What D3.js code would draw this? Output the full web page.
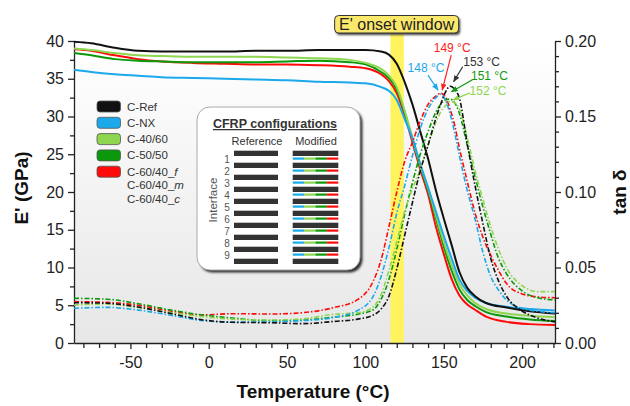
<!DOCTYPE html>
<html>
<head>
<meta charset="utf-8">
<title>DMA - E' and tan delta</title>
<script src="https://cdn.jsdelivr.net/npm/d3@7"></script>
<style>
  body { margin: 0; background: #fff; }
  svg { display: block; font-family: "Liberation Sans", Arial, sans-serif; }
  .axis path, .axis line { stroke: #222; stroke-width: 1.3; }
  .axis text { fill: #222; font-size: 16px; font-family: "Liberation Sans", Arial, sans-serif; }
</style>
</head>
<body>
<svg id="chart" width="630" height="406"></svg>
<script>
// ---- data ----
// storage modulus E' (GPa), solid lines
var tempE = [-86, -75, -60, -45, -30, -10, 10, 30, 50, 70, 90, 100, 110, 115, 120, 125, 130, 135, 140, 145, 150, 155, 160, 165, 170, 177, 190, 205, 221];
var eRef  = [39.9, 39.7, 39.1, 38.7, 38.6, 38.6, 38.6, 38.7, 38.7, 38.8, 38.8, 38.8, 38.6, 38.2, 37.0, 34.6, 31.6, 28.0, 24.4, 20.2, 16.5, 13.0, 9.4, 7.3, 6.2, 5.3, 4.7, 4.2, 3.9];
var eNX   = [36.2, 35.9, 35.6, 35.4, 35.2, 35.1, 35.0, 34.9, 34.8, 34.6, 34.5, 34.4, 33.9, 33.4, 32.2, 29.7, 27.1, 23.7, 20.6, 17.4, 14.2, 11.2, 8.4, 6.9, 6.0, 5.3, 4.8, 4.5, 4.3];
var e4060 = [39.0, 38.8, 38.4, 38.1, 38.0, 37.9, 37.9, 37.9, 37.8, 37.7, 37.5, 37.1, 36.3, 35.4, 33.9, 30.8, 27.2, 23.6, 20.5, 16.9, 13.4, 10.3, 7.8, 6.3, 5.3, 4.5, 3.9, 3.6, 3.4];
var e5050 = [38.4, 38.1, 37.6, 37.4, 37.3, 37.2, 37.2, 37.2, 37.3, 37.4, 37.2, 36.9, 35.9, 35.1, 33.6, 30.6, 27.0, 23.4, 20.2, 16.5, 12.8, 9.6, 7.1, 5.7, 4.9, 4.1, 3.5, 3.1, 2.9];
var e6040 = [38.9, 38.7, 38.1, 37.6, 37.3, 37.1, 37.0, 36.9, 36.9, 36.8, 36.6, 36.4, 35.6, 34.7, 33.1, 30.2, 26.6, 23.0, 19.7, 15.4, 11.8, 8.5, 6.3, 5.1, 4.4, 3.5, 2.8, 2.5, 2.4];

// loss factor tan delta, dash-dot lines
var tempTan = [-86, -65, -45, -25, -5, 15, 40, 60, 80, 95, 105, 110, 115, 120, 125, 130, 135, 140, 145, 148, 151, 154, 157, 160, 165, 170, 175, 180, 185, 190, 200, 210, 221];
var tanRef  = [0.0267, 0.0263, 0.0238, 0.0197, 0.0155, 0.0137, 0.0134, 0.0128, 0.0143, 0.0158, 0.0185, 0.0225, 0.031, 0.049, 0.071, 0.093, 0.114, 0.131, 0.149, 0.158, 0.166, 0.170, 0.168, 0.162, 0.132, 0.104, 0.079, 0.056, 0.041, 0.031, 0.0212, 0.0165, 0.014];
var tanNX   = [0.023, 0.0236, 0.0218, 0.0185, 0.0150, 0.0138, 0.0141, 0.0148, 0.0170, 0.0215, 0.031, 0.044, 0.063, 0.086, 0.104, 0.124, 0.142, 0.155, 0.1625, 0.1647, 0.161, 0.152, 0.139, 0.124, 0.101, 0.082, 0.060, 0.044, 0.035, 0.0285, 0.023, 0.021, 0.020];
var tan4060 = [0.0252, 0.0258, 0.0235, 0.0203, 0.0176, 0.0158, 0.0152, 0.0160, 0.019, 0.020, 0.024, 0.032, 0.048, 0.067, 0.087, 0.102, 0.115, 0.131, 0.146, 0.153, 0.157, 0.160, 0.159, 0.155, 0.136, 0.114, 0.095, 0.077, 0.062, 0.050, 0.038, 0.034, 0.034];
var tan5050 = [0.0296, 0.029, 0.026, 0.022, 0.0187, 0.0165, 0.0148, 0.0152, 0.0172, 0.019, 0.022, 0.029, 0.042, 0.062, 0.085, 0.106, 0.125, 0.140, 0.153, 0.158, 0.161, 0.1615, 0.159, 0.152, 0.131, 0.110, 0.090, 0.072, 0.056, 0.046, 0.0345, 0.030, 0.0285];
var tan6040 = [0.0274, 0.0269, 0.0250, 0.0212, 0.0186, 0.0194, 0.0192, 0.0201, 0.0235, 0.0287, 0.041, 0.055, 0.077, 0.100, 0.120, 0.133, 0.147, 0.158, 0.1635, 0.1655, 0.163, 0.155, 0.144, 0.129, 0.107, 0.086, 0.070, 0.058, 0.048, 0.0395, 0.0325, 0.0305, 0.030];

var seriesNames  = ["C-Ref", "C-NX", "C-40/60", "C-50/50", "C-60/40_f"];
var seriesColors = ["#111111", "#1ba9ec", "#8fd650", "#0b990b", "#ff0a0a"];
var eSeries   = [eRef, eNX, e4060, e5050, e6040];
var tanSeries = [tanRef, tanNX, tan4060, tan5050, tan6040];

var xTicks    = [-50, 0, 50, 100, 150, 200];
var yTicksE   = [0, 5, 10, 15, 20, 25, 30, 35, 40];
var yTicksTan = [0, 0.05, 0.10, 0.15, 0.20];

var onsetWindow = [116, 124.5];

// peak annotations: text, arrow tip (T, tan delta), colour
var peakText   = ["149 °C", "148 °C", "153 °C", "151 °C", "152 °C"];
var peakTipT   = [149, 146.3, 156.3, 154.9, 155.9];
var peakTipTan = [0.1675, 0.1675, 0.173, 0.1664, 0.161];
var peakColors = ["#ff2020", "#1ba9ec", "#333333", "#119911", "#8fd650"];

// ---- layout ----
var svg = d3.select("#chart");
var x = d3.scaleLinear().domain([-86, 221]).range([74, 555]);
var yE = d3.scaleLinear().domain([0, 40]).range([343, 41]);
var yT = d3.scaleLinear().domain([0, 0.2]).range([343, 41]);

var defs = svg.append("defs");
var grad = defs.append("linearGradient").attr("id", "bg")
    .attr("x1", 0).attr("y1", 0).attr("x2", 0).attr("y2", 1);
grad.append("stop").attr("offset", "0%").attr("stop-color", "#ffffff");
grad.append("stop").attr("offset", "100%").attr("stop-color", "#e7e7e7");

defs.append("filter").attr("id", "blur")
  .append("feGaussianBlur").attr("stdDeviation", 0.9);

// plot background
svg.append("rect")
    .attr("x", x.range()[0]).attr("y", yE(40))
    .attr("width", x.range()[1] - x.range()[0])
    .attr("height", yE(0) - yE(40))
    .attr("fill", "url(#bg)");

// E' onset window band
svg.append("rect")
    .attr("x", x(onsetWindow[0])).attr("y", 34)
    .attr("width", x(onsetWindow[1]) - x(onsetWindow[0]))
    .attr("height", yE(0) - 34)
    .attr("fill", "#fff35e");

var bandMid = (x(onsetWindow[0]) + x(onsetWindow[1])) / 2;
svg.append("rect")
    .attr("x", bandMid - 61).attr("y", 17.5).attr("width", 124).attr("height", 17.5)
    .attr("rx", 4).attr("fill", "#444").attr("filter", "url(#blur)");
svg.append("rect")
    .attr("x", bandMid - 62.5).attr("y", 15.5).attr("width", 124).attr("height", 17.5)
    .attr("rx", 4).attr("fill", "#fae86a").attr("stroke", "#333").attr("stroke-width", 1);
svg.append("text")
    .attr("x", bandMid - 0.5).attr("y", 30)
    .attr("text-anchor", "middle")
    .attr("font-size", 16).attr("fill", "#222")
    .text("E' onset window");

// axes
svg.append("g").attr("class", "axis")
    .attr("transform", "translate(0," + yE(0) + ")")
    .call(d3.axisBottom(x).tickValues(xTicks).tickSize(6).tickSizeOuter(0).tickPadding(8)
        .tickFormat(d => String(d)));
svg.append("g").attr("class", "axis")
    .attr("transform", "translate(0," + yE(0) + ")")
    .call(d3.axisBottom(x).tickValues(d3.range(-80, 221, 10).filter(v => v % 50 !== 0))
        .tickSize(5).tickFormat(""))
    .select(".domain").remove();

svg.append("g").attr("class", "axis")
    .attr("transform", "translate(" + x.range()[0] + ",0)")
    .call(d3.axisLeft(yE).tickValues(yTicksE).tickSize(6).tickSizeOuter(0).tickPadding(4));
svg.append("g").attr("class", "axis")
    .attr("transform", "translate(" + x.range()[0] + ",0)")
    .call(d3.axisLeft(yE).tickValues(d3.range(2.5, 40, 5)).tickSize(4).tickFormat(""))
    .select(".domain").remove();

svg.append("g").attr("class", "axis")
    .attr("transform", "translate(" + x.range()[1] + ",0)")
    .call(d3.axisRight(yT).tickValues(yTicksTan).tickSize(6).tickSizeOuter(0).tickPadding(4)
        .tickFormat(d3.format(".2f")));
svg.append("g").attr("class", "axis")
    .attr("transform", "translate(" + x.range()[1] + ",0)")
    .call(d3.axisRight(yT).tickValues(d3.range(0.01, 0.2, 0.01).filter(v => Math.round(v * 100) % 5 !== 0))
        .tickSize(4).tickFormat(""))
    .select(".domain").remove();

// axis titles
svg.append("text")
    .attr("transform", "translate(28,188) rotate(-90)")
    .attr("text-anchor", "middle").attr("font-size", 19).attr("font-weight", "bold").attr("fill", "#111")
    .text("E' (GPa)");
svg.append("text")
    .attr("transform", "translate(619,192) rotate(-90)")
    .attr("text-anchor", "middle").attr("dominant-baseline", "central")
    .attr("font-size", 19).attr("font-weight", "bold").attr("fill", "#111")
    .text("tan δ");
svg.append("text")
    .attr("x", 313).attr("y", 398)
    .attr("text-anchor", "middle").attr("font-size", 19).attr("font-weight", "bold").attr("fill", "#111")
    .text("Temperature (°C)");

// curves
var lineE = d3.line().x((d, i) => x(tempE[i])).y(d => yE(d)).curve(d3.curveMonotoneX);
var lineT = d3.line().x((d, i) => x(tempTan[i])).y(d => yT(d)).curve(d3.curveMonotoneX);

var drawOrder = [4, 3, 2, 1, 0];
var plot = svg.append("g");
drawOrder.forEach(function(k) {
    plot.append("path")
        .attr("d", lineE(eSeries[k]))
        .attr("fill", "none")
        .attr("stroke", seriesColors[k])
        .attr("stroke-width", 2);
});
drawOrder.forEach(function(k) {
    plot.append("path")
        .attr("d", lineT(tanSeries[k]))
        .attr("fill", "none")
        .attr("stroke", seriesColors[k])
        .attr("stroke-width", 1.6)
        .attr("stroke-dasharray", "5,2,1.5,2");
});

// peak labels with arrows
var peakLayout = [
    { tx: 9,   ty: -35, lx: 10,  ly: -42 },
    { tx: -10, ty: -15, lx: -12, ly: -22 },
    { tx: 9,   ty: -15, lx: 28,  ly: -20 },
    { tx: 21,  ty: -12, lx: 38,  ly: -16 },
    { tx: 17,  ty: -7,  lx: 35,  ly: -9 }
];
peakColors.forEach(function(c, i) {
    defs.append("marker")
        .attr("id", "arrow" + i)
        .attr("viewBox", "0 0 10 10").attr("refX", 9).attr("refY", 5)
        .attr("markerUnits", "userSpaceOnUse")
        .attr("markerWidth", 7).attr("markerHeight", 7)
        .attr("orient", "auto")
      .append("path").attr("d", "M0,1 L10,5 L0,9 z").attr("fill", c);
});
var ann = svg.append("g");
peakText.forEach(function(t, i) {
    var px = x(peakTipT[i]), py = yT(peakTipTan[i]), L = peakLayout[i];
    ann.append("line")
        .attr("x1", px + L.tx).attr("y1", py + L.ty)
        .attr("x2", px).attr("y2", py)
        .attr("stroke", peakColors[i]).attr("stroke-width", 1.2)
        .attr("marker-end", "url(#arrow" + i + ")");
    ann.append("text")
        .attr("x", px + L.lx).attr("y", py + L.ly + 4)
        .attr("text-anchor", "middle").attr("font-size", 12)
        .attr("fill", peakColors[i])
        .text(t);
});

// legend
var legend = svg.append("g").attr("transform", "translate(97,101)");
seriesNames.forEach(function(n, i) {
    var row = legend.append("g").attr("transform", "translate(0," + (i * 16.3) + ")");
    row.append("rect")
        .attr("width", 23.5).attr("height", 11).attr("rx", 3)
        .attr("fill", seriesColors[i]).attr("stroke", "#555").attr("stroke-width", 0.8);
    var tx = row.append("text").attr("x", 30).attr("y", 9.5)
        .attr("font-size", 11.5).attr("fill", "#333");
    if (n.indexOf("_") > 0) {
        tx.append("tspan").text(n.slice(0, -1));
        tx.append("tspan").attr("font-style", "italic").text(n.slice(-1));
    } else {
        tx.text(n);
    }
});
["m", "c"].forEach(function(s, j) {
    var tx = legend.append("text").attr("x", 30).attr("y", 4 * 16.3 + 9.5 + (j + 1) * 13.5)
        .attr("font-size", 11.5).attr("fill", "#333");
    tx.append("tspan").text("C-60/40_");
    tx.append("tspan").attr("font-style", "italic").text(s);
});

// CFRP configurations inset
var inset = svg.append("g").attr("transform", "translate(197,107)");
inset.append("rect")
    .attr("x", 2.5).attr("y", 2.5).attr("width", 163).attr("height", 163).attr("rx", 13)
    .attr("fill", "#333").attr("filter", "url(#blur)");
inset.append("rect")
    .attr("width", 163).attr("height", 163).attr("rx", 13)
    .attr("fill", "#fff").attr("stroke", "#aaa").attr("stroke-width", 1);
inset.append("text")
    .attr("x", 78).attr("y", 21).attr("text-anchor", "middle")
    .attr("font-size", 12.5).attr("font-weight", "bold").attr("fill", "#333")
    .style("text-decoration", "underline")
    .text("CFRP configurations");
inset.append("text").attr("x", 60).attr("y", 38).attr("text-anchor", "middle")
    .attr("font-size", 11).attr("fill", "#333").text("Reference");
inset.append("text").attr("x", 119).attr("y", 38).attr("text-anchor", "middle")
    .attr("font-size", 11).attr("fill", "#333").text("Modified");

var plies = d3.range(10);
var stripColors = [seriesColors[1], seriesColors[2], seriesColors[3], seriesColors[4]];
plies.forEach(function(p) {
    var y0 = 43.7 + p * 12;
    inset.append("rect").attr("x", 37).attr("y", y0).attr("width", 44).attr("height", 5.3).attr("fill", "#333");
    inset.append("rect").attr("x", 95.7).attr("y", y0).attr("width", 45.6).attr("height", 5.3).attr("fill", "#333");
    if (p < 9) {
        stripColors.forEach(function(c, q) {
            inset.append("rect")
                .attr("x", 95.7 + q * 45.6 / 4).attr("y", y0 + 6.8)
                .attr("width", 45.6 / 4).attr("height", 2.2).attr("fill", c);
        });
        inset.append("text").attr("x", 30).attr("y", y0 + 12)
            .attr("text-anchor", "middle").attr("font-size", 10).attr("fill", "#555")
            .text(p + 1);
    }
});
inset.append("text")
    .attr("transform", "translate(20,93) rotate(-90)")
    .attr("text-anchor", "middle").attr("font-size", 11.5).attr("fill", "#555")
    .text("Interface");
</script>
</body>
</html>
